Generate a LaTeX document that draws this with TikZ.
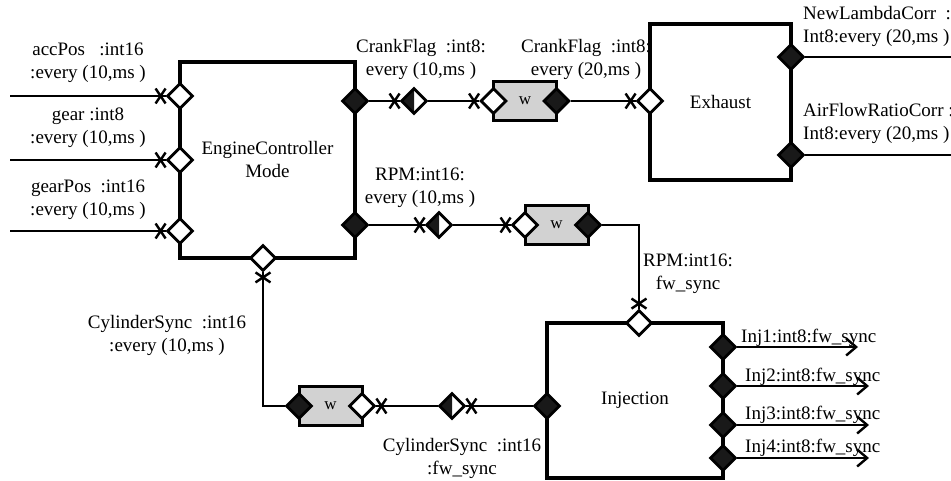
\documentclass[tikz,border=0pt]{standalone}
\usepackage{fontspec}
\setmainfont{Liberation Serif}
\usetikzlibrary{shapes.geometric,arrows.meta,decorations.markings}

\begin{document}
\begin{tikzpicture}[x=1pt,y=-1pt,
  lbl/.style={font=\fontsize{19}{23}\selectfont, inner sep=0pt, align=center},
  lblleft/.style={lbl, align=left, anchor=west},
  block/.style={draw, line width=3.2pt, inner sep=0pt, font=\fontsize{19}{23}\selectfont, align=center},
  port/.style={diamond, shape aspect=1, draw, fill=white, line width=2.8pt, inner sep=0pt, minimum width=26pt, minimum height=26pt},
  portout/.style={port, fill=black!90},
  porthalf/.style={port, path picture={\fill[black!90] (path picture bounding box.north) -- (path picture bounding box.west) -- (path picture bounding box.south) -- cycle;}},
  waitbox/.style={draw, line width=3pt, fill=gray!35, minimum width=63pt, minimum height=39pt, inner sep=0pt, outer sep=0pt, font=\fontsize{17}{19}\selectfont},
  wire/.style={line width=2.7pt},
  xend/.style={postaction={decorate, decoration={markings, mark=at position 1 with {\draw[line width=2.4pt] (-10pt,-7.5pt) -- (0pt,7.5pt) (-10pt,7.5pt) -- (0pt,-7.5pt);}}}},
  outarrow/.style={wire, -{Straight Barb[length=10pt,width=17pt,line width=2.4pt]}}
]
\clip (0,0) rectangle (951,481);

% components
\node[block, minimum width=175pt, minimum height=196pt] (ecm) at (267.5,160) {EngineController\\Mode};
\node[block, minimum width=141pt, minimum height=156pt] (exh) at (720.5,102) {Exhaust};
\node[block, minimum width=176pt, minimum height=155pt] (inj) at (635,400.5) {Injection};

% ports of EngineControllerMode
\node[port] (ecmA) at (180,96) {};
\node[port] (ecmG) at (180,160) {};
\node[port] (ecmP) at (180,231) {};
\node[portout] (ecmC) at (355,101) {};
\node[portout] (ecmR) at (355,225) {};
\node[port] (ecmS) at (263,258) {};

% ports of Exhaust
\node[port] (exhC) at (650,101) {};
\node[portout] (exhL) at (791,57) {};
\node[portout] (exhF) at (791,155) {};

% ports of Injection
\node[port] (injR) at (639,323) {};
\node[portout] (injS) at (547,406) {};
\node[portout] (inj1) at (723,347) {};
\node[portout] (inj2) at (723,386) {};
\node[portout] (inj3) at (723,425) {};
\node[portout] (inj4) at (723,458) {};

% rate transitions
\node[porthalf] (hC) at (414,101) {};
\node[porthalf] (hR) at (439,225) {};
\node[porthalf] (hS) at (452,406) {};

% wait blocks
\node[waitbox] (wC) at (525,101) {w};
\node[port] (wCi) at (wC.west) {};
\node[portout] (wCo) at (wC.east) {};
\node[waitbox] (wR) at (556.5,225) {w};
\node[port] (wRi) at (wR.west) {};
\node[portout] (wRo) at (wR.east) {};
\node[waitbox] (wS) at (330.5,406) {w};
\node[portout] (wSi) at (wS.west) {};
\node[port] (wSo) at (wS.east) {};

% free ends
\coordinate (srcA) at (10,96);
\coordinate (srcG) at (10,160);
\coordinate (srcP) at (10,231);
\coordinate (dstL) at (967,57);
\coordinate (dstF) at (967,155);
\coordinate (dst1) at (858,347);
\coordinate (dst2) at (869,386);
\coordinate (dst3) at (869,425);
\coordinate (dst4) at (869,458);

% connectors
\draw[wire,xend] (srcA) -- (ecmA.west);
\draw[wire,xend] (srcG) -- (ecmG.west);
\draw[wire,xend] (srcP) -- (ecmP.west);

\draw[wire,xend] (ecmC.east) -- (hC.west);
\draw[wire,xend] (hC.east) -- (wCi.west);
\draw[wire,xend] (wCo.east) -- (exhC.west);
\draw[outarrow] (exhL.east) -- (dstL);
\draw[outarrow] (exhF.east) -- (dstF);

\draw[wire,xend] (ecmR.east) -- (hR.west);
\draw[wire,xend] (hR.east) -- (wRi.west);
\draw[wire,xend] (wRo.east) -| (injR.north);

\draw[wire,xend] (injS.west) -- (hS.east);
\draw[wire,xend] (hS.west) -- (wSo.east);
\draw[wire,xend] (wSi.west) -| (ecmS.south);

\draw[outarrow] (inj1.east) -- (dst1);
\draw[outarrow] (inj2.east) -- (dst2);
\draw[outarrow] (inj3.east) -- (dst3);
\draw[outarrow] (inj4.east) -- (dst4);

% signal labels
\node[lbl] (tA) at (88,62.5) {accPos~~ :int16\\:every (10,ms )};
\node[lbl] (tG) at (88,127.5) {gear :int8\\:every (10,ms )};
\node[lbl] (tP) at (88,199.5) {gearPos~ :int16\\:every (10,ms )};
\node[lbl] (tC1) at (421,59.5) {CrankFlag~ :int8:\\every (10,ms )};
\node[lbl] (tC2) at (586,59.5) {CrankFlag~ :int8:\\every (20,ms )};
\node[lbl] (tR1) at (420,187.5) {RPM:int16:\\every (10,ms )};
\node[lbl] (tR2) at (688,273.5) {RPM:int16:\\fw\_sync};
\node[lblleft] (tL) at (803,26.5) {NewLambdaCorr~ :\\Int8:every (20,ms )};
\node[lblleft] (tF) at (803,123.5) {AirFlowRatioCorr :\\Int8:every (20,ms )};
\node[lbl] (tS1) at (167,335.5) {CylinderSync~ :int16\\:every (10,ms )};
\node[lbl] (tS2) at (462,458.5) {CylinderSync~ :int16\\:fw\_sync};
\node[lblleft] (t1) at (741,338) {Inj1:int8:fw\_sync};
\node[lblleft] (t2) at (745,377) {Inj2:int8:fw\_sync};
\node[lblleft] (t3) at (745,415) {Inj3:int8:fw\_sync};
\node[lblleft] (t4) at (745,448) {Inj4:int8:fw\_sync};
\end{tikzpicture}
\end{document}
